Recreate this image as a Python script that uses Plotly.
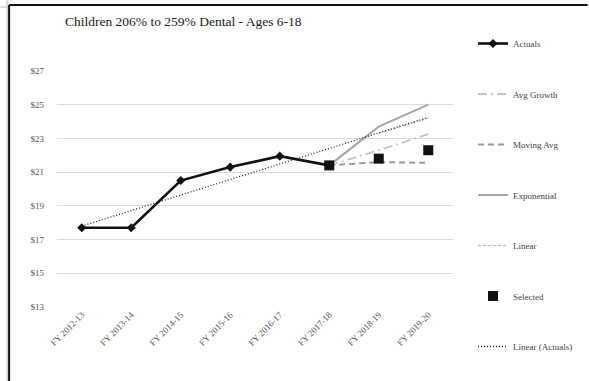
import plotly.graph_objects as go

# Fiscal-year categories
categories = ["FY 2012-13", "FY 2013-14", "FY 2014-15", "FY 2015-16",
              "FY 2016-17", "FY 2017-18", "FY 2018-19", "FY 2019-20"]

# Historical rates
actuals = [17.7, 17.7, 20.5, 21.3, 21.95, 21.4, None, None]

# Forecast methods (start from the last actual)
avg_growth = [None, None, None, None, None, 21.4, 22.3, 23.25]
moving_avg = [None, None, None, None, None, 21.4, 21.6, 21.55]
exponential = [None, None, None, None, None, 21.4, 23.7, 25.0]
linear = [None, None, None, None, None, None, 23.3, 24.2]
selected = [None, None, None, None, None, 21.4, 21.8, 22.3]

# Linear trendline over the actuals, spanning the full period
trend_x = [categories[0], categories[-1]]
trend_y = [17.8, 24.25]

y_ticks = [13, 15, 17, 19, 21, 23, 25, 27]
y_tick_labels = ["$13", "$15", "$17", "$19", "$21", "$23", "$25", "$27"]

SERIF = "Liberation Serif, Times New Roman, serif"

fig = go.Figure()

fig.add_trace(go.Scatter(
    x=categories, y=exponential, name="Exponential", mode="lines",
    line=dict(color="#a6a6a6", width=2), legendrank=4, legendgroup="g4"))
fig.add_trace(go.Scatter(
    x=categories, y=moving_avg, name="Moving Avg", mode="lines",
    line=dict(color="#9a9a9a", width=2, dash="6px,4px"), legendrank=3, legendgroup="g3"))
fig.add_trace(go.Scatter(
    x=categories, y=avg_growth, name="Avg Growth", mode="lines",
    line=dict(color="#c4c4c4", width=1.8, dash="9px,4px,2px,4px"), legendrank=2, legendgroup="g2"))
fig.add_trace(go.Scatter(
    x=categories, y=linear, name="Linear", mode="lines",
    line=dict(color="#b8b8b8", width=1.2, dash="3px,2px"), legendrank=5, legendgroup="g5"))
fig.add_trace(go.Scatter(
    x=trend_x, y=trend_y, name="Linear (Actuals)", mode="lines",
    line=dict(color="#222222", width=1.3, dash="1px,2px"), legendrank=7, legendgroup="g7"))
fig.add_trace(go.Scatter(
    x=categories, y=actuals, name="Actuals", mode="lines+markers",
    line=dict(color="#111111", width=2.6),
    marker=dict(symbol="diamond", size=7, color="#111111"),
    legendrank=1, legendgroup="g1"))
fig.add_trace(go.Scatter(
    x=categories, y=selected, name="Selected", mode="markers",
    marker=dict(symbol="square", size=10, color="#111111"),
    legendrank=6, legendgroup="g6"))

# Outer frame around the chart
frame = dict(type="line", xref="paper", yref="paper", line=dict(color="#111111", width=2))
px_x = lambda px: (px - 57) / 397
px_y = lambda py: (307 - py) / 236
fig.add_shape(**frame, x0=px_x(9), x1=px_x(9), y0=px_y(5), y1=px_y(381))
fig.add_shape(**frame, x0=px_x(9), x1=px_x(589), y0=px_y(5), y1=px_y(5))
thin = dict(type="line", xref="paper", yref="paper", line=dict(color="#bbbbbb", width=1))
fig.add_shape(**thin, x0=px_x(7), x1=px_x(7), y0=px_y(0), y1=px_y(381))
fig.add_shape(**thin, x0=px_x(0), x1=px_x(7), y0=px_y(7), y1=px_y(7))

fig.update_layout(
    width=589, height=381,
    margin=dict(l=57, r=135, t=71, b=74),
    paper_bgcolor="white", plot_bgcolor="white",
    title=dict(text="Children 206% to 259% Dental - Ages 6-18",
               x=65 / 589, xanchor="left", y=1 - 21 / 381, yanchor="middle",
               font=dict(family=SERIF, size=13.5, color="#222222")),
    font=dict(family=SERIF, color="#555555"),
    showlegend=True,
    legend=dict(x=px_x(473), xanchor="left", y=px_y(29), yanchor="top",
                traceorder="grouped", tracegroupgap=31.5, maxheight=1,
                font=dict(family=SERIF, size=9, color="#444444"),
                bgcolor="rgba(0,0,0,0)"),
    xaxis=dict(type="category", categoryorder="array", categoryarray=categories,
               range=[-0.5, 7.5], showgrid=False, zeroline=False, showline=False,
               tickangle=-45, tickfont=dict(family=SERIF, size=9, color="#555555"),
               ticks=""),
    yaxis=dict(range=[13, 27], tickvals=y_ticks, ticktext=y_tick_labels,
               showgrid=True, gridcolor="#dcdcdc", gridwidth=1,
               zeroline=False, showline=False, ticks="",
               ticklabelstandoff=12,
               tickfont=dict(family=SERIF, size=9, color="#555555")),
)

fig.write_html("out.html")
